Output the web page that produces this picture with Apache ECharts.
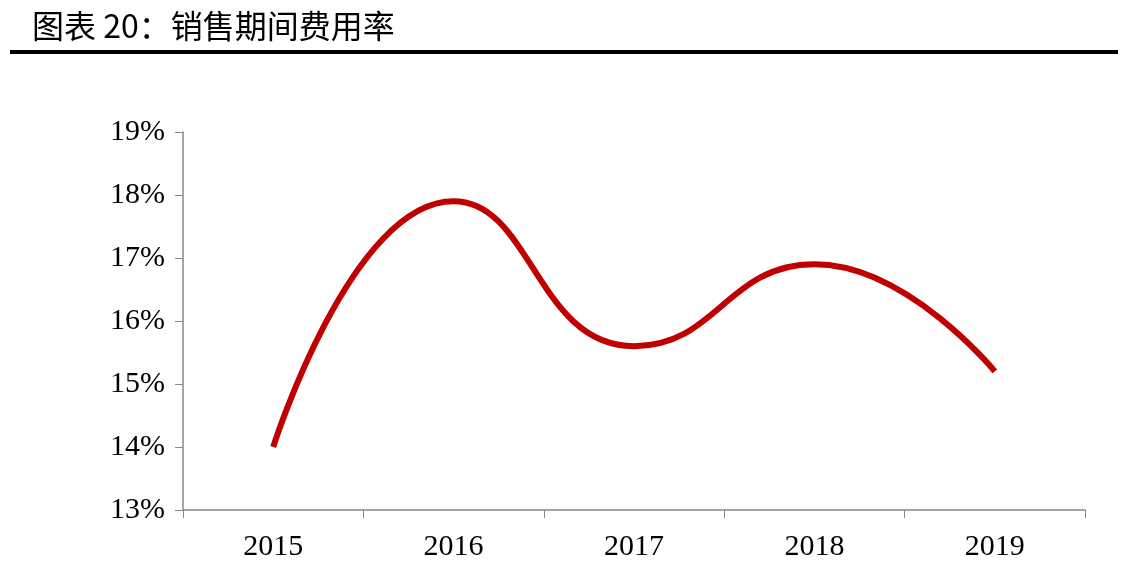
<!DOCTYPE html>
<html><head><meta charset="utf-8">
<script src="https://cdn.jsdelivr.net/npm/echarts@6/dist/echarts.min.js"></script>
<style>html,body{margin:0;padding:0;background:#fff}#c{width:1138px;height:584px}</style>
</head><body><div id="c"></div>
<script>
const categories = ['2015','2016','2017','2018','2019'];
const values = [14.0, 17.9, 15.6, 16.9, 15.2];
const chart = echarts.init(document.getElementById('c'));
chart.setOption({
  animation:false,
  graphic:[
    {type:'text',left:32,top:10,style:{text:'图表 20：销售期间费用率',font:'32px "Noto Sans CJK SC"',fill:'#000'}},
    {type:'rect',shape:{x:10,y:50,width:1108,height:4},style:{fill:'#000'}}
  ],
  grid:{left:183,right:53,top:132,bottom:74},
  xAxis:{type:'category',data:categories,boundaryGap:true,
    axisLine:{lineStyle:{color:'#888',width:1.5}},
    axisTick:{show:true,length:8,inside:false,lineStyle:{color:'#888'}},
    axisLabel:{color:'#000',fontFamily:'Liberation Serif',fontSize:30,margin:22}},
  yAxis:{type:'value',min:13,max:19,interval:1,
    axisLine:{show:true,lineStyle:{color:'#888',width:1.5}},
    axisTick:{show:true,length:8,lineStyle:{color:'#888'}},
    splitLine:{show:false},
    axisLabel:{color:'#000',fontFamily:'Liberation Serif',fontSize:30,margin:18,formatter:v=>v+'%'}},
  series:[{type:'line',data:values,smooth:0.5,showSymbol:false,
    lineStyle:{color:'#C00000',width:6}}]
});
</script></body></html>
